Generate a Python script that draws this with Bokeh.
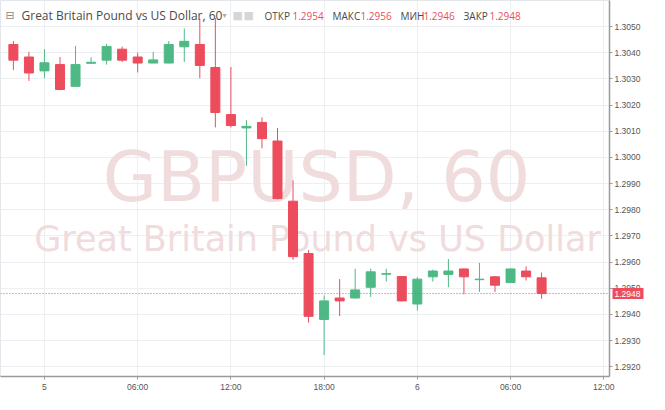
from bokeh.plotting import figure
from bokeh.models import (ColumnDataSource, LinearAxis, FixedTicker, Label, Span,
                          Range1d, NumeralTickFormatter)
from bokeh.embed import file_html
from bokeh.resources import INLINE

# hours since day "5" 00:00, one candle per hour
hours = list(range(-2, 33))
opens = [1.30432, 1.30384, 1.30331, 1.30355, 1.30272, 1.30360, 1.30372, 1.30414, 1.30384, 1.30361,
         1.30361, 1.30423, 1.30432, 1.30344, 1.30164, 1.30113, 1.30134, 1.30063, 1.29833, 1.29633,
         1.29381, 1.29463, 1.29463, 1.29504, 1.29554, 1.29545, 1.29440, 1.29544, 1.29553, 1.29574,
         1.29533, 1.29544, 1.29522, 1.29566, 1.2954]
closes = [1.30372, 1.30323, 1.30362, 1.30260, 1.30355, 1.30364, 1.30424, 1.30372, 1.30361, 1.30373,
          1.30432, 1.30444, 1.30352, 1.30172, 1.30122, 1.30119, 1.30072, 1.29843, 1.29621, 1.29393,
          1.29452, 1.29452, 1.29494, 1.29563, 1.29556, 1.29452, 1.29535, 1.29566, 1.29566, 1.29544,
          1.29535, 1.29512, 1.29574, 1.29544, 1.2948]
highs = [1.30445, 1.30404, 1.30414, 1.30384, 1.30426, 1.30383, 1.30434, 1.30424, 1.30401, 1.30404,
         1.30445, 1.30493, 1.30530, 1.30533, 1.30346, 1.30143, 1.30153, 1.30113, 1.29913, 1.29646,
         1.29473, 1.29535, 1.29575, 1.29575, 1.29575, 1.29547, 1.29543, 1.29571, 1.29612, 1.29576,
         1.29597, 1.29546, 1.29576, 1.29584, 1.2956]
lows = [1.30334, 1.30293, 1.30303, 1.30257, 1.30270, 1.30359, 1.30355, 1.30365, 1.30325, 1.30361,
        1.30360, 1.30365, 1.30303, 1.30115, 1.30115, 1.29968, 1.30035, 1.29840, 1.29609, 1.29369,
        1.29245, 1.29394, 1.29461, 1.29467, 1.29526, 1.29450, 1.29415, 1.29526, 1.29504, 1.29477,
        1.29486, 1.29486, 1.29520, 1.29530, 1.2946]

x_ticks = [0, 6, 12, 18, 24, 30, 36]
x_tick_labels = ["5", "06:00", "12:00", "18:00", "6", "06:00", "12:00"]
y_ticks = [1.2920 + 0.001 * i for i in range(14)]

last_open, last_high, last_low, last_close = 1.2954, 1.2956, 1.2946, 1.2948

RED = "#ec4c5c"
GREEN = "#4fb985"
WATERMARK = "#f0dcdc"

up = [c >= o for o, c in zip(opens, closes)]
src = ColumnDataSource(dict(
    x=hours, open=opens, close=closes, high=highs, low=lows,
    top=[max(o, c) for o, c in zip(opens, closes)],
    bottom=[min(o, c) for o, c in zip(opens, closes)],
    color=[GREEN if u else RED for u in up],
))

p = figure(width=649, height=394, output_backend="svg", toolbar_location=None,
           x_range=Range1d(-2.83, 36.37), y_range=Range1d(1.29163, 1.30600),
           y_axis_location=None, x_axis_location=None,
           min_border_left=0, min_border_top=0, min_border_right=40, min_border_bottom=16)
p.outline_line_color = "#e3e6eb"
p.background_fill_color = "white"

yaxis = LinearAxis(ticker=FixedTicker(ticks=y_ticks),
                   formatter=NumeralTickFormatter(format="0.0000"))
xaxis = LinearAxis(ticker=FixedTicker(ticks=x_ticks),
                   major_label_overrides={t: l for t, l in zip(x_ticks, x_tick_labels)})
for ax in (yaxis, xaxis):
    ax.axis_line_color = "#9a9a9a"
    ax.axis_line_width = 1.5
    ax.major_tick_line_color = "#9a9a9a"
    ax.major_tick_out = 3
    ax.major_tick_in = 0
    ax.minor_tick_line_color = None
    ax.major_label_text_font = "Liberation Sans"
    ax.major_label_text_font_size = "8.5px"
    ax.major_label_text_color = "#555555"
    ax.major_label_standoff = 2
p.add_layout(yaxis, "right")
p.add_layout(xaxis, "below")

# last price badge: an outer axis whose single thick tick points back over the price scale
badge = LinearAxis(ticker=FixedTicker(ticks=[last_close]),
                   formatter=NumeralTickFormatter(format="0.0000"),
                   axis_line_color=None, minor_tick_line_color=None,
                   major_tick_line_color=RED, major_tick_line_width=11,
                   major_tick_in=31, major_tick_out=0, major_tick_line_cap="butt",
                   major_label_standoff=-29, major_label_text_color="white",
                   major_label_text_font="Liberation Sans", major_label_text_font_size="8.5px")
p.add_layout(badge, "right")

p.xgrid.ticker = FixedTicker(ticks=x_ticks)
p.ygrid.ticker = FixedTicker(ticks=y_ticks)
p.grid.grid_line_color = "#edf0f3"

# watermark
p.add_layout(Label(x=316, y=200, x_units="screen", y_units="screen", text="GBPUSD, 60",
                   text_align="center", text_baseline="middle", text_font="DejaVu Sans",
                   text_font_size="70px", text_color=WATERMARK, level="underlay"))
p.add_layout(Label(x=317, y=138, x_units="screen", y_units="screen",
                   text="Great Britain Pound vs US Dollar",
                   text_align="center", text_baseline="middle", text_font="DejaVu Sans",
                   text_font_size="35px", text_color=WATERMARK, level="underlay"))

# candles
p.segment("x", "high", "x", "low", source=src, color="color", line_width=1)
p.vbar(x="x", top="top", bottom="bottom", width=0.58, source=src,
       fill_color="color", line_color="color", line_width=1)

# last price line
p.add_layout(Span(location=last_close, dimension="width", line_color=RED,
                  line_dash="1 2", line_width=1))

# header
hdr_y = 361
header = [
    (5, "\u229f", "DejaVu Sans", "11px", "#8a8a8a"),
    (21, "Great Britain Pound vs US Dollar, 60", "Open Sans", "12px", "#4a4a4a"),
    (222, "\u25be", "DejaVu Sans", "8px", "#aaaaaa"),
    (232, "\u25a0", "DejaVu Sans", "11px", "#d6d6d6"),
    (243, "\u25a0", "DejaVu Sans", "11px", "#d6d6d6"),
    (264, "ОТКР", "Open Sans", "10px", "#4a4a4a"),
    (292, "{:.4f}".format(last_open), "Open Sans", "10px", RED),
    (332, "МАКС", "Open Sans", "10px", "#4a4a4a"),
    (360, "{:.4f}".format(last_high), "Open Sans", "10px", RED),
    (400, "МИН", "Open Sans", "10px", "#4a4a4a"),
    (423, "{:.4f}".format(last_low), "Open Sans", "10px", RED),
    (463, "ЗАКР", "Open Sans", "10px", "#4a4a4a"),
    (489, "{:.4f}".format(last_close), "Open Sans", "10px", RED),
]
for hx, txt, fnt, size, col in header:
    p.add_layout(Label(x=hx, y=hdr_y, x_units="screen", y_units="screen", text=txt,
                       text_baseline="middle", text_font=fnt, text_font_size=size,
                       text_color=col, level="overlay"))

open("out.html", "w").write(file_html(p, INLINE))
